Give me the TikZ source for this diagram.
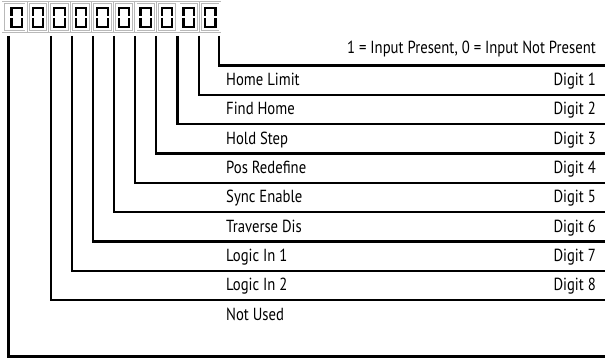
\documentclass[tikz,border=0pt]{standalone}
\usepackage{fontspec}
\setmainfont{PT Sans}[FakeStretch=0.84]
\begin{document}
\begin{tikzpicture}[x=1pt,y=-1pt,
  dbox/.style={draw=gray!55, double=white, double distance=1.3pt, line width=0.8pt,
    minimum height=29pt, inner sep=0pt, outer sep=0pt},
  zero/.style={line width=2.2pt, black},
  conn/.style={line width=2.3pt, line join=miter},
  lbl/.style={anchor=base west, inner sep=0pt, font=\fontsize{17.5}{20}\selectfont},
  dig/.style={anchor=base east, inner sep=0pt, font=\fontsize{17.5}{20}\selectfont}]
\useasboundingbox (0,0) rectangle (605,358);
% digit boxes
\node[dbox, minimum width=23pt] (d1) at (14.6,17) {};
\foreach \k in {2,...,10}{
  \pgfmathsetmacro{\cx}{27.7+21.54*(\k-2)+10.25}
  \node[dbox, minimum width=19.5pt] (d\k) at (\cx,17) {};
}
\foreach \k/\dx in {1/2,2/0,3/0,4/0,5/0,6/0,7/0,8/0,9/0,10/0}{
  \draw[zero] ([xshift={\dx pt-5.2pt}]d\k.center) ++(0,-1) -- ++(0,-8) -- ++(10.4,0) -- ++(0,8);
  \draw[zero] ([xshift={\dx pt-5.2pt}]d\k.center) ++(0,1) -- ++(0,9) -- ++(10.4,0) -- ++(0,-9);
}
% connector tops and ends
\foreach \i/\x/\y in {1/219/65.5,2/199/94.85,3/177.5/124.2,4/156/153.55,5/135/182.9,
                      6/114/212.25,7/93/241.6,8/72/270.95,9/51/300.3,10/8.5/356.5}{
  \coordinate (t\i) at (\x,36);
  \coordinate (e\i) at (605,\y);
  \draw[conn] (t\i) |- (e\i);
}
% header
\node[dig] (hdr) at (596,54) {1 = Input Present, 0 = Input Not Present};
% labels
\foreach \i/\name in {1/Home Limit,2/Find Home,3/Hold Step,4/Pos Redefine,5/Sync Enable,
                      6/Traverse Dis,7/Logic In 1,8/Logic In 2}{
  \pgfmathsetmacro{\yb}{65.5+29.35*(\i-1)+20}
  \node[lbl] (l\i) at (226,\yb) {\name};
  \node[dig] (g\i) at (596,\yb) {Digit \i};
}
\node[lbl] (l9) at (226,{65.5+29.35*8+20}) {Not Used};
\end{tikzpicture}
\end{document}
